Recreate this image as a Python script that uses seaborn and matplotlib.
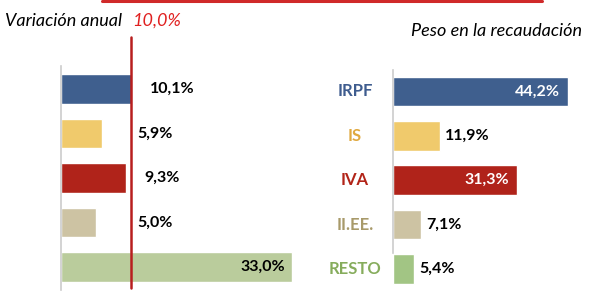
import numpy as np
import pandas as pd
import matplotlib.pyplot as plt
import seaborn as sns
from matplotlib.lines import Line2D
import matplotlib.transforms as mtransforms

sns.set_theme(style='white')
plt.rcParams['font.family'] = ['Lato', 'DejaVu Sans']

# Data
categories = ['IRPF', 'IS', 'IVA', 'II.EE.', 'RESTO']
variacion = [10.1, 5.9, 9.3, 5.0, 33.0]
peso = [44.2, 11.9, 31.3, 7.1, 5.4]
media = 10.0

left_colors = ['#3F5F8E', '#F0CA6C', '#B0231A', '#CDC3A3', '#BACC9C']
right_colors = ['#3F5F8E', '#F0CA6C', '#B0231A', '#CDC3A3', '#A2C584']
label_colors = ['#3E5C8E', '#E0A940', '#B22418', '#A89A6A', '#86AC5C']

df = pd.DataFrame({'cat': categories, 'var': variacion, 'peso': peso})

fig = plt.figure(figsize=(6.02, 2.99), dpi=100)
W, H = 602, 299

# ---- left panel: annual variation ----
ax1 = fig.add_axes([61 / W, 9 / H, 238 / W, 224 / H])
sns.barplot(data=df, x='var', y='cat', hue='cat', palette=left_colors,
            legend=False, ax=ax1, width=0.67, saturation=1, orient='h')
ax1.set_xlim(0, 34)
ax1.set_ylim(4.52, -0.52)
ax1.axvline(media, ymin=0.009, ymax=1.13, color='#B81E1E', lw=1.8,
            clip_on=False, zorder=5)

for i, v in enumerate(variacion):
    txt = f"{v:.1f}%".replace('.', ',')
    if v > 20:
        ax1.text(v - 1.0, i, txt, ha='right', va='center', fontsize=11.5,
                 fontweight='bold', color='black')
    else:
        ax1.text(max(v + 2.6, 10.9), i, txt, ha='left', va='center',
                 fontsize=11.5, fontweight='bold', color='black')

# ---- right panel: weight in revenue ----
ax2 = fig.add_axes([393 / W, 7.8 / H, 207 / W, 221.9 / H])
sns.barplot(data=df, x='peso', y='cat', hue='cat', palette=right_colors,
            legend=False, ax=ax2, width=0.67, saturation=1, orient='h')
ax2.set_xlim(0, 52.3)
ax2.set_ylim(4.5, -0.5)
ax2.spines['left'].set_bounds(3.64, -0.48)

for i, v in enumerate(peso):
    txt = f"{v:.1f}%".replace('.', ',')
    if v > 20:
        ax2.text(v - 2.0, i, txt, ha='right', va='center', fontsize=11.5,
                 fontweight='bold', color='white')
    else:
        ax2.text(v + 1.2, i, txt, ha='left', va='center', fontsize=11.5,
                 fontweight='bold', color='black')

# category labels centred left of the right panel
trans = mtransforms.blended_transform_factory(fig.transFigure, ax2.transData)
for i, (c, col) in enumerate(zip(categories, label_colors)):
    ax2.text(355 / W, i, c, transform=trans, ha='center', va='center',
             fontsize=12, fontweight='bold', color=col)

for ax in (ax1, ax2):
    for s in ('top', 'right', 'bottom'):
        ax.spines[s].set_visible(False)
    ax.spines['left'].set_color('#CCCCCC')
    ax.spines['left'].set_linewidth(1.2)
    ax.set_xticks([])
    ax.set_yticks([])
    ax.set_xlabel('')
    ax.set_ylabel('')
    ax.patch.set_alpha(0)

# titles
fig.text(5 / W, 1 - 21 / H, 'Variación anual', fontsize=13, style='italic',
         ha='left', va='center', color='black')
fig.text(132 / W, 1 - 21 / H, '10,0%', fontsize=13, style='italic',
         ha='left', va='center', color='#E02020')
fig.text(582 / W, 1 - 31 / H, 'Peso en la recaudación', fontsize=13,
         style='italic', ha='right', va='center', color='black')

# red border remnant at the top
fig.add_artist(Line2D([102 / W, 542 / W], [1 - 0.8 / H, 1 - 0.8 / H],
                      transform=fig.transFigure, color='#D02A2A', lw=2.2))

fig.savefig('out.png', dpi=100)
